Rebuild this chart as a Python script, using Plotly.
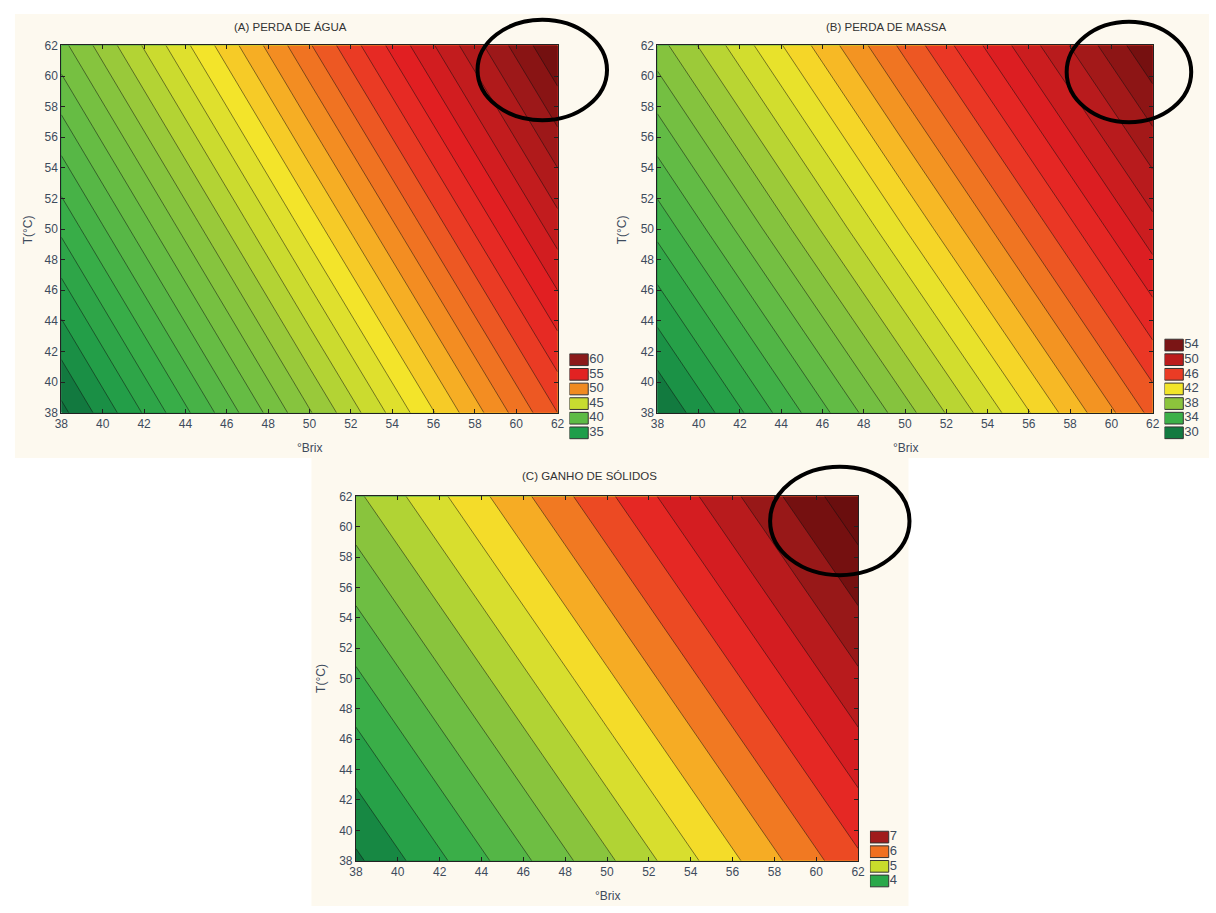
import plotly.graph_objects as go

# ---------------- data ----------------
brix = [38, 50, 62]          # °Brix grid
temp = [38, 50, 62]          # T(°C) grid
# rows = temperature, columns = °Brix
perda_agua = [[32.7, 42.9, 53.0],
              [37.2, 47.4, 57.5],
              [41.7, 51.9, 62.0]]
perda_massa = [[29.0, 37.6, 46.3],
               [33.3, 42.0, 50.6],
               [37.6, 46.3, 54.9]]
ganho_solidos = [[3.45, 4.95, 6.45],
                 [4.20, 5.70, 7.20],
                 [4.95, 6.45, 7.95]]

titles = ["(A) PERDA DE ÁGUA", "(B) PERDA DE MASSA", "(C) GANHO DE SÓLIDOS"]
x_label = "°Brix"
y_label = "T(°C)"

legA_labels = ["35", "40", "45", "50", "55", "60"]
legB_labels = ["30", "34", "38", "42", "46", "50", "54"]
legC_labels = ["4", "5", "6", "7"]

# ---------------- styles ----------------
legA_colors = ["#1e9e4a", "#5dbb45", "#c8dc30", "#f08a20", "#e22222", "#8b1a1a"]
legB_colors = ["#137a40", "#3cb048", "#8cc43c", "#f2e52a", "#ea3c25", "#bb1c1c", "#7a1515"]
legC_colors = ["#2aa84a", "#c8dc2c", "#f07020", "#a01c1c"]

cscale = [
    [0.00, "#0e6e3c"], [0.07, "#1e9a48"], [0.16, "#3aae48"], [0.25, "#62bb45"],
    [0.35, "#90c63c"], [0.42, "#c5da30"], [0.50, "#f3e42a"], [0.55, "#f8c025"],
    [0.60, "#f39022"], [0.66, "#ee6222"], [0.72, "#e93025"], [0.78, "#e01e22"],
    [0.85, "#c01c1e"], [0.92, "#9a1818"], [1.00, "#6a0e0e"],
]

W, H = 1216, 913
CREAM = "#fdf9ef"
TXT = "#3d4b5c"
FONT = "Liberation Sans, Arial, sans-serif"


def px_x(p):
    return p / W


def px_y(p):
    return 1 - p / H


# plot areas in pixels (left, right, top, bottom)
panels = {
    "A": (55, 557, 39, 412),
    "B": (658, 1159, 39, 412),
    "C": (353, 861, 497, 867),
}

fig = go.Figure()

specs = [
    ("A", perda_agua, 30, 64, 1.0, 33.0, 62.0, "x", "y"),
    ("B", perda_massa, 26, 58, 1.0, 29.0, 55.0, "x2", "y2"),
    ("C", ganho_solidos, 2.5, 8.5, 0.25, 3.45, 7.8, "x3", "y3"),
]
for key, z, s, e, step, zmin, zmax, xa, ya in specs:
    fig.add_trace(go.Contour(
        x=brix, y=temp, z=z,
        autocontour=False,
        contours=dict(start=s, end=e, size=step, coloring="fill"),
        colorscale=cscale, zmin=zmin, zmax=zmax, showscale=False,
        line=dict(color="rgba(15,15,15,0.85)", width=0.6, smoothing=0),
        xaxis=xa, yaxis=ya, hoverinfo="skip",
    ))

layout_axes = {}
for i, key in enumerate(["A", "B", "C"]):
    l, r, t, b = panels[key]
    suffix = "" if i == 0 else str(i + 1)
    common = dict(
        range=[38, 62], dtick=2, tick0=38, ticks="inside", ticklen=4,
        tickcolor="#222", showline=True, linecolor="#222", linewidth=1,
        mirror="ticks", showgrid=False, zeroline=False,
        tickfont=dict(family=FONT, size=12, color=TXT),
    )
    layout_axes["xaxis" + suffix] = dict(
        domain=[px_x(l), px_x(r)], anchor="y" + suffix, **common)
    layout_axes["yaxis" + suffix] = dict(
        domain=[px_y(b), px_y(t)], anchor="x" + suffix, **common)

# legends drawn as small bar charts
legends = [
    (legA_labels, legA_colors, 569, 620, 350.8, "x4", "y4"),
    (legB_labels, legB_colors, 1171, 1216, 335.9, "x5", "y5"),
    (legC_labels, legC_colors, 873, 920, 835.6, "x6", "y6"),
]
pitch = 14.85
box_w = 19.0
for labels, colors, lx0, lx1, ly0, xa, ya in legends:
    n = len(labels)
    idx = list(range(n))
    fig.add_trace(go.Bar(
        orientation="h", y=idx, x=[1] * n, width=0.8,
        marker=dict(color=colors, line=dict(color="#333333", width=1)),
        xaxis=xa, yaxis=ya, hoverinfo="skip", showlegend=False,
    ))
    fig.add_trace(go.Scatter(
        y=idx, x=[1.05] * n, mode="text", text=labels,
        textposition="middle right",
        textfont=dict(family=FONT, size=13, color=TXT),
        xaxis=xa, yaxis=ya, hoverinfo="skip", showlegend=False,
    ))
    ly1 = ly0 + n * pitch
    na = xa[1:]
    layout_axes["xaxis" + na] = dict(
        domain=[px_x(lx0), px_x(lx1)], range=[0, (lx1 - lx0) / box_w],
        visible=False, anchor=ya, fixedrange=True)
    layout_axes["yaxis" + na] = dict(
        domain=[px_y(ly1), px_y(ly0)], range=[-0.5, n - 0.5],
        visible=False, anchor=xa, fixedrange=True)

shapes = [
    dict(type="rect", xref="paper", yref="paper", layer="below",
         x0=px_x(8), x1=1, y0=px_y(458), y1=px_y(7),
         fillcolor=CREAM, line=dict(width=0)),
    dict(type="rect", xref="paper", yref="paper", layer="below",
         x0=px_x(308), x1=px_x(912), y0=0, y1=px_y(458),
         fillcolor=CREAM, line=dict(width=0)),
]
circles = [(476, 607, 13, 115), (1072, 1198, 15, 117), (772, 913, 467, 577)]
for x0, x1, y0, y1 in circles:
    shapes.append(dict(type="circle", xref="paper", yref="paper", layer="above",
                       x0=px_x(x0), x1=px_x(x1), y0=px_y(y1), y1=px_y(y0),
                       line=dict(color="#000000", width=4)))

annotations = []
title_pos = [(287, 20), (889, 20), (589, 476)]
for (tx, ty), ttl in zip(title_pos, titles):
    annotations.append(dict(text=ttl, x=px_x(tx), y=px_y(ty), xref="paper", yref="paper",
                            showarrow=False, xanchor="center", yanchor="middle",
                            font=dict(family=FONT, size=11.5, color="#333333")))
xlab_pos = [(306, 448), (909, 448), (607, 903)]
for tx, ty in xlab_pos:
    annotations.append(dict(text=x_label, x=px_x(tx), y=px_y(ty), xref="paper", yref="paper",
                            showarrow=False, xanchor="center", yanchor="middle",
                            font=dict(family=FONT, size=12, color=TXT)))
ylab_pos = [(21, 226), (622, 226), (317, 682)]
for tx, ty in ylab_pos:
    annotations.append(dict(text=y_label, x=px_x(tx), y=px_y(ty), xref="paper", yref="paper",
                            showarrow=False, xanchor="center", yanchor="middle", textangle=-90,
                            font=dict(family=FONT, size=12, color=TXT)))

fig.update_layout(
    width=W, height=H,
    margin=dict(l=0, r=0, t=0, b=0),
    paper_bgcolor="white", plot_bgcolor="rgba(0,0,0,0)",
    showlegend=False,
    shapes=shapes, annotations=annotations,
    **layout_axes,
)

fig.write_html(
    "out.html",
    config={"displayModeBar": False},
    post_script="document.body.style.margin='0';document.body.style.overflow='hidden';",
)
